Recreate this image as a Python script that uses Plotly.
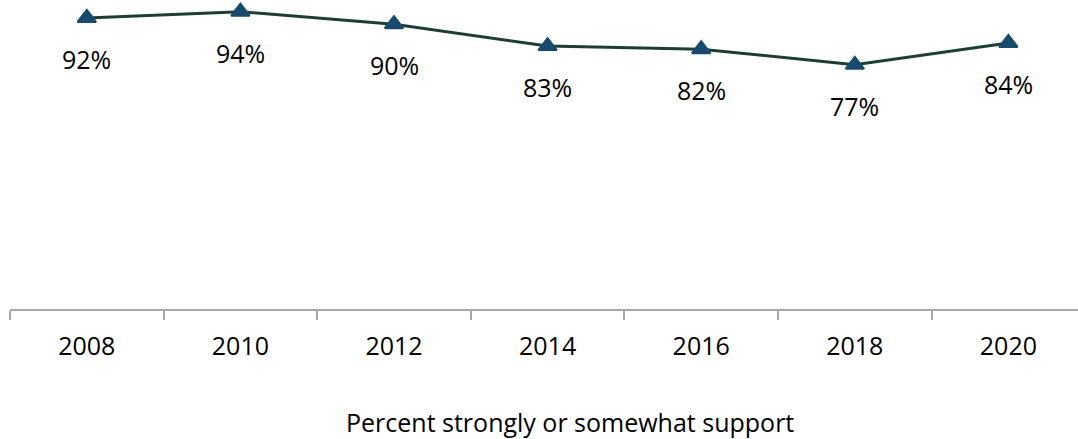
import plotly.graph_objects as go

years = ["2008", "2010", "2012", "2014", "2016", "2018", "2020"]
support = [92, 94, 90, 83, 82, 77, 84]
labels = ["92%", "94%", "90%", "83%", "82%", "77%", "84%"]
axis_title = "Percent strongly or somewhat support"

FONT = "Open Sans"
FS = 25
W, H = 1078, 439
left, right_px = 10, 1078
plot_bottom = 309

fig = go.Figure()
fig.add_trace(go.Scatter(
    x=years, y=support, mode="lines+markers",
    line=dict(color="#1d3f33", width=3),
    marker=dict(symbol="triangle-up", size=16, color="#174a6d",
                line=dict(color="#174a6d", width=2)),
    cliponaxis=False, showlegend=False, hoverinfo="skip",
))

for i, (v, lab) in enumerate(zip(support, labels)):
    fig.add_annotation(x=i, y=v, xref="x", yref="y", text=lab, showarrow=False,
                       yshift=-41, font=dict(family=FONT, size=FS, color="#000000"))

fig.add_annotation(xref="paper", yref="paper",
                   x=(570 - left) / (right_px - left), y=-(422 - plot_bottom) / plot_bottom,
                   text=axis_title, showarrow=False, xanchor="center", yanchor="middle",
                   font=dict(family=FONT, size=FS, color="#000000"))

cat_w = 153.6
xmax = -0.5 + (right_px - left) / cat_w

fig.update_layout(
    width=W, height=H,
    margin=dict(l=left, r=W - right_px, t=0, b=H - plot_bottom),
    paper_bgcolor="white", plot_bgcolor="white",
    font=dict(family=FONT, size=FS, color="#000000"),
    xaxis=dict(type="category", range=[-0.5, xmax], showgrid=False, zeroline=False,
               showline=True, linecolor="#a6a6a6", linewidth=2,
               ticks="outside", ticklen=9, tickcolor="#a6a6a6", tickwidth=2,
               tickson="boundaries", ticklabelstandoff=14,
               tickfont=dict(family=FONT, size=FS, color="#000000")),
    yaxis=dict(range=[-1.28, 97.76], visible=False, showgrid=False, zeroline=False),
)

fig.write_html("out.html")
